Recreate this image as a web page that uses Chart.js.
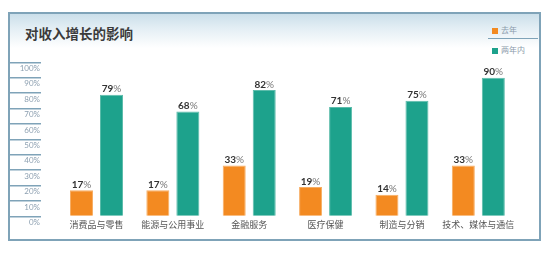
<!DOCTYPE html>
<html>
<head>
<meta charset="utf-8">
<script src="https://cdn.jsdelivr.net/npm/chart.js"></script>
<style>
  html, body { margin: 0; padding: 0; background: #fff; }
  #wrap { position: relative; width: 554px; height: 260px; overflow: hidden; }
  #frame {
    position: absolute; left: 8px; top: 12px; width: 529px; height: 225px;
    border: 2px solid #7fa3b8;
    background: linear-gradient(to bottom, #cbdfea 0px, #e3eef4 14px, #ffffff 34px);
  }
  #title {
    position: absolute; left: 25px; top: 24px;
    font: bold 13.5px "Noto Sans CJK SC", sans-serif; color: #3b3b3b; line-height: 18px;
  }
  .leg { position: absolute; left: 492px; font: 8px "Noto Sans CJK SC", sans-serif; color: #8b9bab; line-height: 10px; }
  .leg span { display: inline-block; width: 6px; height: 6px; margin-right: 3px; vertical-align: -0.5px; }
  #sep { position: absolute; left: 488px; top: 38px; width: 50px; height: 0; border-top: 1.5px solid #7fa3b8; }
  canvas { position: absolute; left: 0; top: 0; }
</style>
</head>
<body>
<div id="wrap">
  <div id="frame"></div>
  <div id="title">对收入增长的影响</div>
  <div id="legend"></div>
  <div id="sep"></div>
  <canvas id="chart" width="554" height="260"></canvas>
</div>
<script>
// chart data
const categories = ['消费品与零售', '能源与公用事业', '金融服务', '医疗保健', '制造与分销', '技术、媒体与通信'];
const seriesNames = ['去年', '两年内'];
const lastYear = [17, 17, 33, 19, 14, 33];
const withinTwoYears = [79, 68, 82, 71, 75, 90];
const yTicks = [0, 10, 20, 30, 40, 50, 60, 70, 80, 90, 100];

const colors = ['#f38a21', '#1da28c'];
const edgeColors = ['#f7ad62', '#5cbcab'];

// html legend built from the series
const legendBox = document.getElementById('legend');
seriesNames.forEach((name, i) => {
  const d = document.createElement('div');
  d.className = 'leg';
  d.style.top = (i === 0 ? 25 : 45) + 'px';
  d.innerHTML = '<span style="background:' + colors[i] + '"></span>' + name;
  legendBox.appendChild(d);
});

// values above bars: bold number + lighter %
const valueLabels = {
  id: 'valueLabels',
  afterDatasetsDraw(chart) {
    const ctx = chart.ctx;
    ctx.save();
    ctx.textBaseline = 'alphabetic';
    chart.data.datasets.forEach((ds, di) => {
      const meta = chart.getDatasetMeta(di);
      meta.data.forEach((bar, i) => {
        const num = String(ds.data[i]);
        ctx.font = 'bold 10px Lato';
        const wn = ctx.measureText(num).width;
        ctx.font = '10px Lato';
        const wp = ctx.measureText('%').width;
        const x0 = bar.x - (wn + wp) / 2;
        const y = bar.y - 2.5;
        ctx.font = 'bold 10px Lato';
        ctx.fillStyle = '#333333';
        ctx.textAlign = 'left';
        ctx.fillText(num, x0, y);
        ctx.font = '10px Lato';
        ctx.fillStyle = '#777777';
        ctx.fillText('%', x0 + wn, y);
      });
    });
    ctx.restore();
  }
};

new Chart(document.getElementById('chart'), {
  type: 'bar',
  data: {
    labels: categories,
    datasets: [
      { label: seriesNames[0], data: lastYear, backgroundColor: colors[0], borderColor: edgeColors[0], borderWidth: 1 },
      { label: seriesNames[1], data: withinTwoYears, backgroundColor: colors[1], borderColor: edgeColors[1], borderWidth: 1 }
    ]
  },
  options: {
    responsive: false,
    animation: false,
    categoryPercentage: 0.786,
    barPercentage: 0.767,
    layout: { padding: { left: 9, right: 37.5, top: 62.3, bottom: 26.8 } },
    plugins: { legend: { display: false }, tooltip: { enabled: false } },
    scales: {
      x: {
        grid: { display: false, drawTicks: false },
        border: { display: false },
        ticks: { padding: 3, color: '#555555', font: { family: 'Noto Sans CJK SC', size: 9, lineHeight: 1.2 }, maxRotation: 0, autoSkip: false }
      },
      y: {
        position: 'left',
        weight: 2,
        min: 0,
        max: 100,
        afterBuildTicks: (s) => { s.ticks = yTicks.map(v => ({ value: v })); },
        afterFit: (s) => { s.width = 32; },
        grid: { drawOnChartArea: false, drawTicks: true, tickLength: 32, tickColor: '#7fa3b8', lineWidth: 1.5 },
        border: { display: false },
        ticks: {
          padding: -31,
          labelOffset: 6,
          color: '#8c9fb0',
          font: { family: 'Lato', size: 8 },
          callback: (v) => v + '%'
        }
      },
      spacer: {
        position: 'left',
        weight: 1,
        afterFit: (s) => { s.width = 17.3; },
        grid: { display: false },
        border: { display: false },
        ticks: { display: false }
      }
    }
  },
  plugins: [valueLabels]
});
</script>
</body>
</html>
